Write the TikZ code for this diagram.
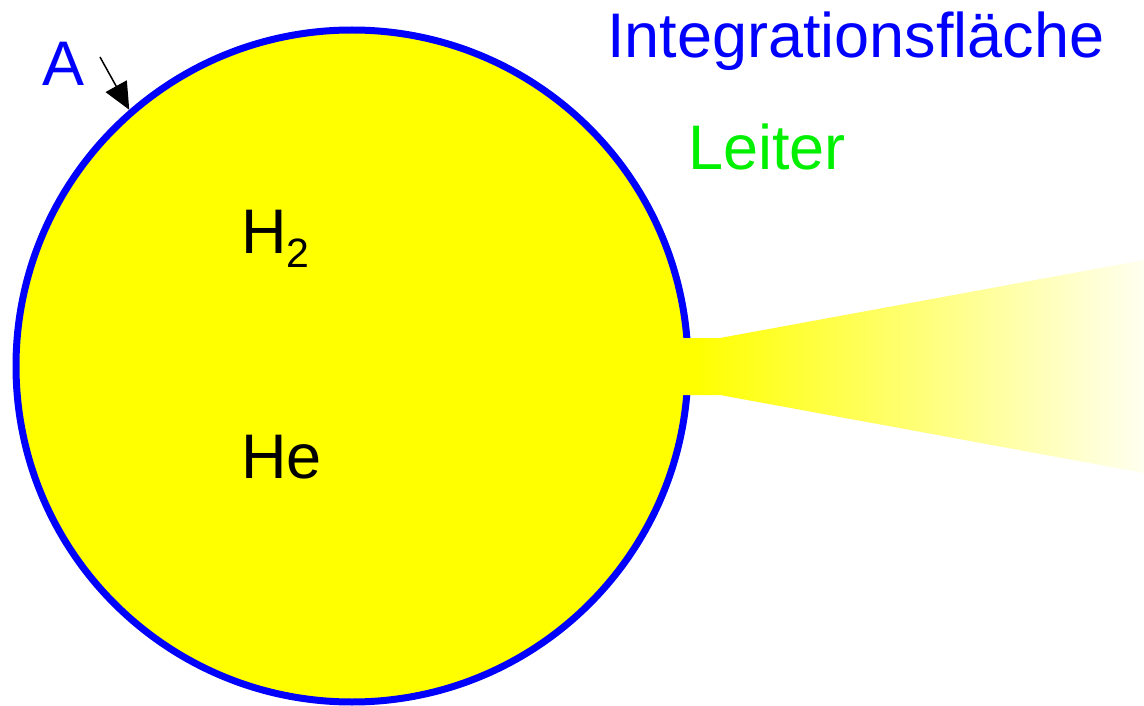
\documentclass[tikz,border=0pt]{standalone}
\usepackage{fontspec}
\setmainfont{Liberation Sans}
\usepackage{tikz}
\usepackage{xcolor}
\usetikzlibrary{arrows.meta,positioning,calc}
\definecolor{ringblue}{HTML}{0000FF}
\definecolor{gasyellow}{HTML}{FFFF00}
\definecolor{leitergreen}{HTML}{00F000}
\pgfdeclarehorizontalshading{leiterfade}{100bp}{color(0bp)=(gasyellow); color(27bp)=(gasyellow); color(75bp)=(gasyellow!6); color(100bp)=(gasyellow!6)}

\begin{document}
\begin{tikzpicture}[x=1pt,y=-1pt,every node/.style={font=\fontsize{63}{63}\selectfont,inner sep=0pt}]
  \useasboundingbox (0,0) rectangle (1144,706);
  \node[circle,draw=ringblue,fill=gasyellow,line width=7pt,minimum size=672pt] (ball) at (352,366) {};
  % Leiter: Hals und Kegel mit Verlauf
  \shade[shading=leiterfade] (676,338) -- (720,338) -- (1144,260) -- (1144,473) -- (720,395) -- (676,395) -- cycle;
  \node[anchor=base west,text=ringblue] (flaeche) at (607,58) {Integrationsfläche};
  \node[anchor=base west,text=leitergreen] (leiter) at (688,170) {Leiter};
  \node[anchor=base west,text=ringblue] (A) at (42,86) {A};
  \node[anchor=base west] (htwo) at (241,253) {H\raisebox{-14pt}{\fontsize{41}{41}\selectfont 2}};
  \node[anchor=base west] (he) at (241,478) {He};
  \coordinate (atail) at (100,57);
  \draw[line width=1.5pt,-{Triangle[length=27pt,width=24pt]}] (atail) -- (ball.131);
\end{tikzpicture}
\end{document}
